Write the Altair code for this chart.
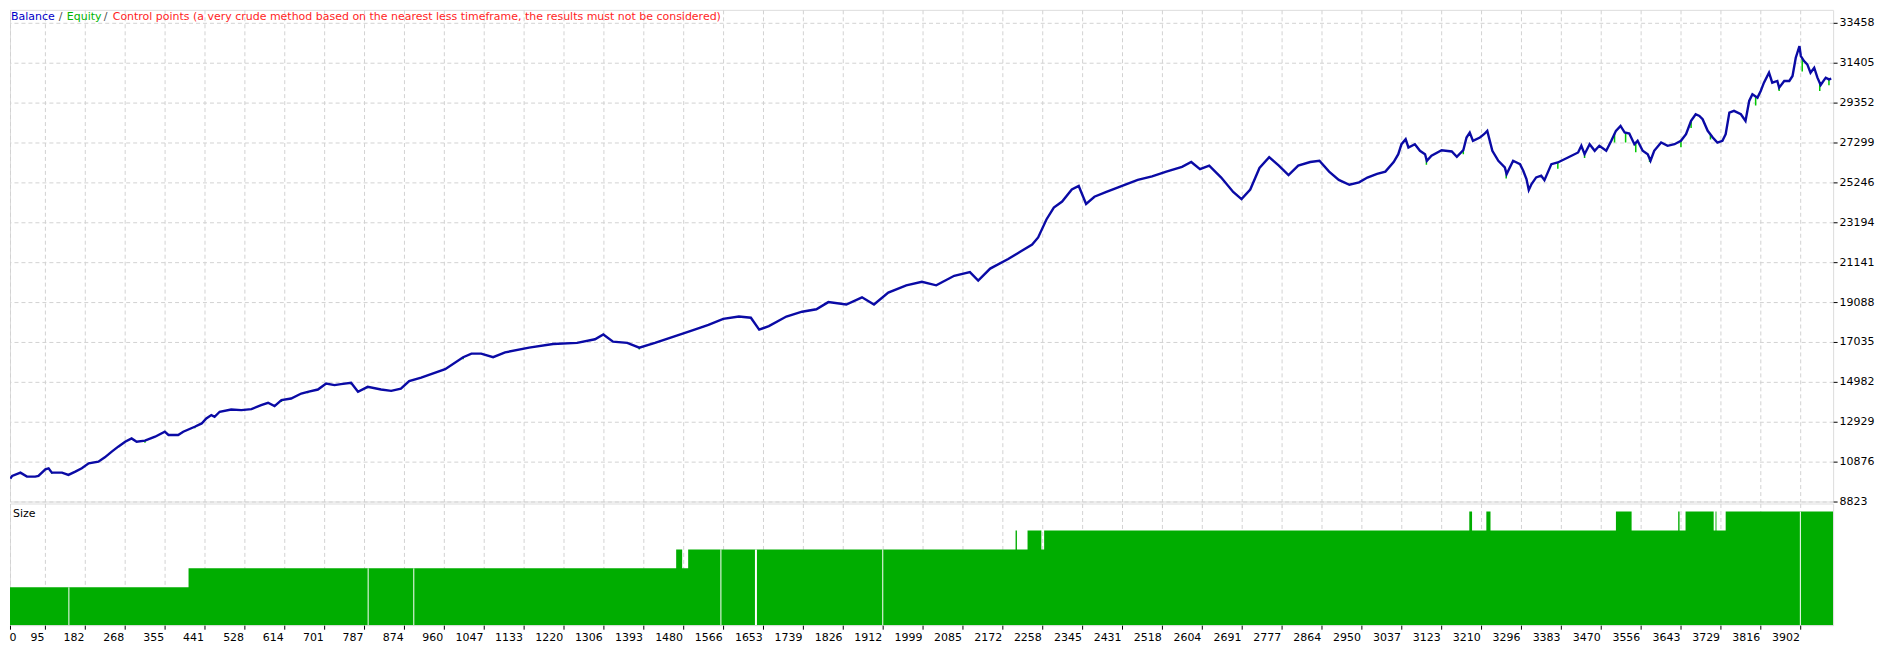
import altair as alt
import pandas as pd
import numpy as np

# ---------------- data ----------------
deal = [20, 24, 42, 56, 74, 81, 96, 103, 110, 132, 146, 161, 175, 190, 211, 225, 240, 254, 269, 283,
        294, 312, 334, 355, 363, 384, 395, 420, 435, 445, 456, 463, 474, 499, 521, 543, 564, 579, 593, 608,
        629, 651, 665, 687, 705, 723, 737, 759, 774, 795, 824, 846, 867,
        885, 911, 963, 1002, 1020, 1041, 1067, 1093, 1145, 1197, 1249, 1288, 1306, 1327, 1358, 1384, 1418,
        1457, 1496, 1534, 1566, 1600, 1626, 1644, 1665, 1703, 1737, 1768, 1794, 1833, 1867, 1893, 1924,
        1963, 1997, 2028, 2067, 2101, 2119, 2145, 2184, 2210, 2236, 2249, 2267, 2283, 2301, 2322, 2337,
        2353, 2371, 2397, 2431, 2465, 2496, 2527, 2561, 2581, 2600, 2620, 2646, 2672, 2690, 2709, 2729,
        2750, 2771, 2792, 2813, 2839, 2859, 2880, 2901, 2924, 2945, 2963, 2984, 3002, 3020,
        3030, 3037, 3046, 3052, 3066, 3077, 3088, 3092, 3102, 3124, 3146, 3157, 3171, 3178, 3185, 3192,
        3207, 3216, 3223, 3234, 3247, 3261, 3265, 3279, 3294, 3301, 3308, 3313, 3319, 3329, 3340, 3347,
        3362, 3376, 3398, 3420, 3427, 3434, 3445, 3456, 3466, 3481, 3492, 3502, 3512, 3521, 3531, 3542,
        3549, 3560, 3571, 3577, 3585, 3600, 3614, 3629, 3643, 3654, 3665, 3675, 3683, 3690, 3701, 3712,
        3722, 3733, 3740, 3748, 3758, 3773, 3783, 3791, 3798, 3809, 3816, 3823, 3834, 3841, 3852, 3856,
        3867, 3878, 3885, 3892, 3900, 3903, 3910, 3917, 3924, 3932, 3939, 3946, 3957, 3964, 3969]
balance = [10000, 10142, 10311, 10106, 10106, 10142, 10481, 10532, 10311, 10311, 10193, 10363, 10532, 10789,
           10876, 11096, 11389, 11646, 11902, 12072, 11902, 11954, 12159, 12415, 12246, 12246, 12415, 12672,
           12841, 13098, 13272, 13185, 13442, 13560, 13529, 13580, 13786, 13904, 13734, 14042, 14124, 14381,
           14468, 14586, 14894, 14812, 14863, 14930, 14468, 14725, 14586, 14520, 14637,
           15017, 15201, 15633, 16249, 16434, 16434, 16249, 16496, 16742, 16927, 16989, 17174, 17420, 17051,
           16989, 16742, 16989, 17297, 17605, 17913, 18222, 18345, 18283, 17667, 17852, 18345, 18591, 18715,
           19085, 18961, 19331, 18961, 19578, 19948, 20132, 19948, 20441, 20626, 20194, 20811, 21304, 21673,
           22043, 22413, 23337, 23953, 24261, 24878, 25062, 24138, 24508, 24755, 25062, 25371, 25556, 25802,
           26049, 26295, 25926, 26110, 25494, 24755, 24385, 24878, 25987, 26542, 26110, 25617, 26110, 26295,
           26357, 25802, 25371, 25124, 25247, 25494, 25679, 25802, 26295,
           26698, 27211, 27468, 27042, 27211, 26872, 26698, 26359, 26616, 26903, 26836, 26564, 26903, 27555,
           27811, 27385, 27555, 27724, 27899, 26872, 26359, 26015, 25671, 26359, 26185, 25846, 25415, 24850,
           25158, 25502, 25589, 25363, 26185, 26272, 26528, 26785, 27129, 26698, 27211, 26872, 27129, 26872,
           27385, 27899, 28155, 27811, 27760, 27211, 27385, 26872, 26698, 26359, 26872, 27298, 27129, 27211,
           27385, 27724, 28412, 28751, 28668, 28494, 27899, 27555, 27298, 27385, 27724, 28838, 28925, 28751,
           28412, 29438, 29777, 29607, 29951, 30377, 30891, 30377, 30465, 30121, 30465, 30465, 30721, 31660,
           32261, 31748, 31491, 31317, 30891, 31147, 30634, 30259, 30634, 30547, 30582]

eq_deal = [110, 312, 420, 608, 665, 759, 795, 1002, 1384, 3091, 3171, 3264, 3376, 3434, 3499, 3523,
           3545, 3575, 3643, 3665, 3707, 3745, 3805, 3856, 3906, 3944, 3964]
eq_value = [10250, 11850, 12600, 13950, 14400, 14850, 14650, 16150, 16650, 26150, 26700, 25450, 25950,
            26500, 27300, 27300, 26800, 26300, 27050, 28050, 27450, 28500, 29200, 29950, 30950, 29950, 30250]

seg_start = [19.3, 406.5, 1464, 1477, 1490, 2200, 2203, 2226, 2256, 2262, 3184, 3190, 3221, 3230,
             3502, 3536, 3637, 3640, 3653, 3714, 3718, 3720, 3740]
seg_level = [2, 3, 4, 3, 4, 5, 4, 5, 4, 5, 6, 5, 6, 5, 6, 5, 6, 5, 6, 5, 6, 5, 6]
last_deal = 3973

gap_deal = [147, 796, 895, 1561, 1637, 1912, 3902]
gap_level = [2, 3, 3, 4, 4, 4, 6]
gap_width = [1, 1, 1, 1, 2, 1, 1]

x_labels = [0, 95, 182, 268, 355, 441, 528, 614, 701, 787, 874, 960, 1047, 1133, 1220, 1306, 1393,
            1480, 1566, 1653, 1739, 1826, 1912, 1999, 2085, 2172, 2258, 2345, 2431, 2518, 2604, 2691,
            2777, 2864, 2950, 3037, 3123, 3210, 3296, 3383, 3470, 3556, 3643, 3729, 3816, 3902]
y_labels = [8823, 10876, 12929, 14982, 17035, 19088, 21141, 23194, 25246, 27299, 29352, 31405, 33458]

legend_parts = ["Balance", "/", "Equity", "/",
                "Control points (a very crude method based on the nearest less timeframe, the results must not be considered)"]
legend_colors = ["#0000c8", "#505050", "#00b400", "#505050", "#ff1e1e"]

# ---------------- styling ----------------
FONT = "DejaVu Sans"
GRID = "#d2d2d2"
BAL = "#0a0aa5"
EQ = "#00c800"
BAR = "#00ad00"
X_DOMAIN = [seg_start[0], last_deal]
x_ticks = [X_DOMAIN[0]] + x_labels[1:]

bal_df = pd.DataFrame({"deal": deal, "balance": balance})
eq_df = pd.DataFrame({"deal": eq_deal, "equity": eq_value})
eq_df["balance"] = np.interp(eq_df["deal"], deal, balance)

x_scale = alt.Scale(domain=X_DOMAIN, nice=False, zero=False)

x_main = alt.X("deal:Q", scale=x_scale,
               axis=alt.Axis(values=x_ticks, grid=True, labels=False, ticks=False, domain=False,
                             title=None, gridDash=[4, 3], gridColor=GRID, gridWidth=1))
y_main = alt.Y("balance:Q", scale=alt.Scale(domain=[8823, 34125], nice=False, zero=False),
               axis=alt.Axis(orient="right", values=y_labels, format="d", grid=True, gridDash=[4, 3],
                             gridColor=GRID, gridWidth=1, domain=False, title=None, tickSize=4,
                             tickColor="#000000", labelColor="#000000", labelFont=FONT,
                             labelFontSize=11, labelPadding=2, labelOverlap=False))

eq_layer = alt.Chart(eq_df).mark_rule(color=EQ, strokeWidth=1.5, clip=True).encode(
    x=x_main, y=y_main, y2="equity:Q")
bal_layer = alt.Chart(bal_df).mark_line(color=BAL, strokeWidth=2.4, clip=True).encode(
    x="deal:Q", y="balance:Q")

legend_x = [1, 49, 57, 94, 103]
legend_layers = []
for txt, col, px in zip(legend_parts, legend_colors, legend_x):
    legend_layers.append(
        alt.Chart(pd.DataFrame({"t": [txt]})).mark_text(
            align="left", baseline="middle", font=FONT, fontSize=11, color=col
        ).encode(text="t:N", x=alt.value(px), y=alt.value(7))
    )

main = alt.layer(eq_layer, bal_layer, *legend_layers).properties(width=1828, height=493)

area_df = pd.DataFrame({"deal": seg_start + [last_deal], "size": seg_level + [seg_level[-1]]})
area_df["zero"] = 0
gap_df = pd.DataFrame({"deal": gap_deal, "size": gap_level, "w": gap_width})
gap_df["zero"] = 0

x_low = alt.X("deal:Q", scale=x_scale,
              axis=alt.Axis(values=x_ticks, format="d",
                            labelExpr="datum.value < 50 ? '0' : datum.label",
                            labelAlign={"condition": {"test": "datum.value < 50", "value": "left"},
                                        "value": "right"},
                            labelFlush=False, labelOverlap=False, labelBaseline="top",
                            labelPadding=2, labelOffset=-1, tickSize=4, tickColor="#000000",
                            labelColor="#000000", labelFont=FONT, labelFontSize=11,
                            grid=True, gridDash=[4, 3], gridColor=GRID, gridWidth=1,
                            domain=False, title=None))
y_low = alt.Y("size:Q", scale=alt.Scale(domain=[0, 6.421], nice=False, zero=True), axis=None)

area = alt.Chart(area_df).mark_area(interpolate="step-after", color=BAR, clip=True).encode(
    x=x_low, y=y_low, y2="zero:Q")
gaps = alt.Chart(gap_df).mark_rule(color="#ffffff", clip=True).encode(
    x="deal:Q", y="size:Q", y2="zero:Q", strokeWidth=alt.StrokeWidth("w:Q", scale=None))
size_text = alt.Chart(pd.DataFrame({"t": ["Size"]})).mark_text(
    align="left", baseline="middle", font=FONT, fontSize=11, color="#000000"
).encode(text="t:N", x=alt.value(3), y=alt.value(11))

lower = alt.layer(area, gaps, size_text).properties(width=1828, height=122)

chart = alt.vconcat(main, lower, spacing=2, bounds="flush").properties(
    padding={"left": 0, "top": 0, "right": 0, "bottom": 0}
).configure_view(stroke="#000000", strokeWidth=1).configure(background="#ffffff")

chart.save("out.html", embed_options={"renderer": "svg", "actions": False})
